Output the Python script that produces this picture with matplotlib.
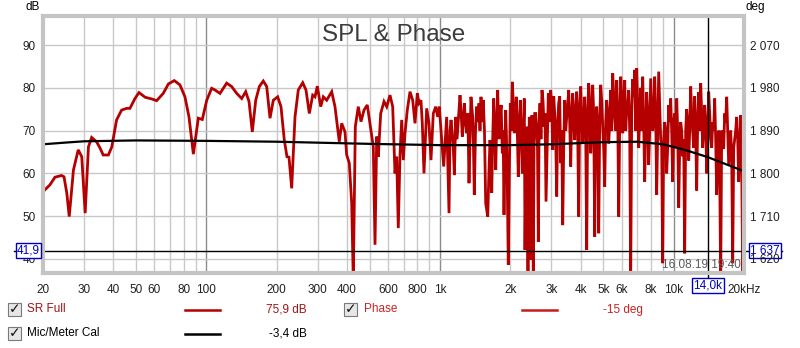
import matplotlib
matplotlib.use("Agg")
import matplotlib.pyplot as plt
from matplotlib.patches import Rectangle

plt.rcParams["font.family"] = ["Liberation Sans", "DejaVu Sans"]

# SR Full SPL trace (Hz, dB)
spl_freq = [
    20, 21.4, 22.5, 24.0, 24.6, 25.3, 25.9, 27.0, 28.3, 29.3, 30.3, 31.3, 32.3, 33.9,
    35.1, 36.2, 38.1, 39.4, 41.3, 43.4, 45.6, 47.1, 49.5, 51.5, 54.7, 58.4, 61.3, 65.4,
    68.8, 72.9, 77.1, 81.0, 84.3, 88.0, 90.1, 92.4, 96.1, 100.4, 105.4, 108.9, 114.4,
    122.2, 128.4, 134.9, 141.7, 147.4, 152.3, 157.3, 162.7, 168.6, 175.3, 181.3, 187.3,
    193.5, 202.0, 208.7, 215.6, 221.4, 225.8, 231.9, 239.6, 247.5, 258.5, 267.0, 275.9,
    285.3, 291.8, 298.5, 308.7, 316.7, 327.4, 344.0, 355.3, 370.7, 379.6, 392.1, 398.8,
    409.1, 418.9, 425.5, 434.1, 447.0, 459.2, 472.9, 488.5, 505.2, 518.3, 527.1, 536.0,
    544.5, 557.5, 575.9, 591.5, 611.0, 627.5, 641.8, 652.7, 663.0, 674.3, 685.7, 696.5,
    708.4, 724.5, 744.1, 764.3, 781.7, 799.7, 813, 829, 840, 854, 877, 897, 915, 936,
    959, 978, 993, 1017, 1037, 1068, 1093, 1115, 1129, 1152, 1168, 1198, 1218, 1246,
    1271, 1301, 1331, 1357, 1380, 1402, 1436, 1469, 1498, 1532, 1569, 1601, 1637, 1665,
    1698, 1732, 1766, 1807, 1848, 1879, 1911, 1942, 1960, 2000, 2040, 2080, 2121, 2163,
    2207, 2251, 2295, 2311, 2350, 2380, 2411, 2445, 2476, 2508, 2543, 2593, 2635, 2679,
    2732, 2787, 2843, 2908, 2977, 3037, 3097, 3159, 3221, 3286, 3351, 3418, 3486, 3555,
    3626, 3698, 3772, 3846, 3923, 4002, 4081, 4162, 4245, 4329, 4416, 4503, 4593, 4684,
    4778, 4873, 4970, 5069, 5170, 5273, 5378, 5484, 5594, 5705, 5819, 5935, 6052, 6173,
    6297, 6421, 6548, 6679, 6812, 6948, 7087, 7227, 7371, 7516, 7666, 7819, 7974, 8133,
    8294, 8459, 8629, 8799, 8975, 9153, 9336, 9522, 9710, 9904, 10100, 10303, 10509,
    10716, 10930, 11147, 11370, 11597, 11827, 12063, 12302, 12547, 12797, 13051, 13312,
    13576, 13847, 14123, 14403, 14690, 14981, 15281, 15586, 15895, 16212, 16533, 16865,
    17201, 17542, 17892, 18247, 18612, 18983, 19360, 19747, 20000,
]
spl_db = [
    55.7, 57.3, 59.1, 59.5, 59.2, 55.3, 49.9, 60.8, 65.5, 63.9, 50.7, 66.2, 68.4, 67.4,
    65.9, 64.3, 64.3, 66.2, 72.5, 74.8, 75.2, 75.2, 77.5, 78.9, 77.8, 77.4, 77.0, 78.7,
    80.9, 81.7, 80.7, 77.9, 73.2, 64.5, 68.6, 72.9, 72.6, 77.1, 79.9, 79.5, 78.7,
    81.1, 80.3, 78.7, 77.5, 79.1, 76.8, 69.7, 77.1, 80.3, 81.6, 80.3, 72.9,
    77.1, 77.9, 75.6, 67.8, 63.9, 63.8, 56.5, 73.2, 79.5, 81.2, 79.5, 74.0,
    78.3, 77.9, 80.4, 75.6, 77.9, 77.1, 79.1, 75.6, 67.4, 71.7, 69.7, 64.3,
    62.4, 53.0, 35.0, 70.9, 75.6, 72.1, 74.8, 76.0, 70.5, 66.2, 43.3, 68.6,
    63.9, 74.0, 76.8, 75.6, 78.3, 75.6, 60.0, 63.9, 47.2, 64.3, 72.5, 63.1,
    69.4, 74.8, 79.1, 77.1, 71.7, 78.7, 76.4, 77.1, 71.7, 60.0, 75.2, 71.7, 63.1, 74.0,
    75.6, 73.2, 75.6, 67.8, 61.6, 73.2, 50.7, 72.5, 69.4, 59.6, 73.2, 72.5, 78.3, 68.6,
    76.4, 69.4, 57.7, 77.9, 73.2, 55.0, 75.6, 76.4, 77.9, 77.1, 53.0, 49.9, 67.8, 55.4,
    77.5, 60.8, 79.5, 73.2, 64.7, 50.3, 74.8, 56.9, 38.6, 76.4, 81.4, 69.4, 77.9, 59.2,
    77.1, 60.0, 77.5, 42.1, 70.9, 36.5, 73.2, 39.8, 73.6, 35.0, 74.0, 70.1, 44.0, 76.4,
    79.5, 70.9, 53.4, 78.7, 79.5, 65.5, 74.0, 54.6, 76.4, 62.4, 47.9, 77.1, 73.2, 79.5,
    61.6, 78.7, 67.8, 79.1, 49.9, 80.3, 67.0, 77.9, 42.1, 81.1, 64.7, 80.7, 45.2, 75.6,
    46.0, 80.7, 70.9, 56.9, 77.1, 67.0, 79.5, 83.4, 73.2, 81.8, 49.9, 82.6, 69.4, 81.8,
    74.8, 79.5, 35.0, 82.0, 84.2, 84.6, 66.0, 80.0, 82.6, 58.0, 79.0, 62.0, 82.2, 70.0,
    82.6, 55.0, 83.8, 68.0, 39.0, 72.0, 60.0, 76.0, 77.5, 58.0, 74.0, 77.5, 52.0,
    72.0, 64.0, 41.3, 75.0, 63.0, 80.3, 70.0, 78.0, 56.0, 79.0, 81.1, 66.0,
    76.0, 60.0, 79.1, 68.0, 72.0, 77.5, 55.0, 70.0, 35.0, 66.0, 74.0, 77.9,
    62.0, 70.0, 39.0, 68.0, 73.2, 58.0, 73.6, 35.5, 66.0,
]

# extra readings inside the dense, fast-wiggling part above ~1.1 kHz
spl_freq_dense = [
    1104, 1140, 1183, 1232, 1258, 1286, 1316, 1344, 1391, 1419, 1452, 1483, 1515, 1550,
    1619, 1651, 1681, 1715, 1749, 1786, 1827, 1863, 1895, 1926, 1980, 2020, 2060, 2100,
    2142, 2185, 2229, 2273, 2330, 2395, 2428, 2460, 2492, 2525, 2568, 2614, 2657,
    2705, 2760, 2815, 2875, 2942, 3007, 3067, 3128, 3190, 3253, 3318, 3384, 3452, 3520,
    3590, 3662, 3735, 3809, 3884, 3962, 4041, 4121, 4203, 4287, 4372, 4459, 4548, 4638,
    4731, 4825, 4921, 5019, 5119, 5221, 5325, 5431, 5539, 5649, 5762, 5877, 5993, 6112,
    6235, 6359, 6484, 6613, 6745, 6880, 7017, 7157, 7299, 7443, 7591, 7742, 7896, 8053,
    8213, 8376, 8544, 8714, 8887, 9064, 9244, 9429, 9616, 9807, 10002, 10201, 10406,
    10612, 10823, 11038, 11258, 11483, 11712, 11945, 12182, 12424, 12672, 12924, 13181,
    13444, 13711, 13985, 14263, 14546, 14835, 15131, 15433, 15740, 16053, 16372, 16699,
    17033, 17371, 17717, 18069, 18429, 18797, 19171, 19553, 19873,
]
spl_db_dense = [
    70, 66, 68, 74, 72, 72, 74, 68, 66, 70, 72, 70, 72, 70,
    60, 64, 68, 70, 72, 68, 76, 70, 66, 68, 60, 70, 76, 72,
    70, 72, 68, 70, 62, 60, 62, 64, 60, 66, 74, 66, 72,
    68, 77, 74, 66, 72, 76, 78, 68, 72, 78, 70, 66, 70, 76,
    72, 74, 72, 75, 70, 76, 74, 72, 70, 74, 77, 70, 74, 72,
    70, 72, 77, 66, 72, 74, 72, 70, 78, 70, 74, 72, 78, 76,
    70, 76, 70, 74, 78, 70, 76, 74, 70, 72, 70, 74, 70, 76,
    72, 74, 70, 76, 66, 68, 70, 66, 72, 70, 72, 66, 70,
    66, 70, 68, 70, 72, 70, 74, 66, 70, 72, 70, 74,
    70, 72, 68, 74, 66, 70, 68, 64, 60, 70, 66, 72,
    70, 66, 64, 66, 70, 68, 66, 62, 70,
]

# Mic/Meter Cal trace (Hz, dB on the SPL axis)
cal_freq = [20, 25, 30, 50, 100, 200, 500, 1000, 2000, 3000, 5000, 7000, 9000,
            11000, 14000, 17000, 20000]
cal_db = [66.8, 67.2, 67.5, 67.7, 67.6, 67.4, 66.9, 66.6, 66.6, 66.8, 67.3, 67.4,
          66.8, 65.6, 63.8, 62.0, 60.5]

x_ticks = [20, 30, 40, 50, 60, 80, 100, 200, 300, 400, 600, 800, 1000, 2000, 3000,
           4000, 5000, 6000, 8000, 10000, 20000]
x_labels = ["20", "30", "40", "50", "60", "80", "100", "200", "300", "400", "600",
            "800", "1k", "2k", "3k", "4k", "5k", "6k", "8k", "10k", "20kHz"]
db_ticks = [40, 50, 60, 70, 80, 90]
deg_ticks = [1620, 1710, 1800, 1890, 1980, 2070]

cursor_freq = 14000
cursor_db = 41.9

C_RED = "#b40000"
C_GRID = "#c8c8c8"
C_BLUE = "#0000c0"

spl = sorted(zip(spl_freq + spl_freq_dense, spl_db + spl_db_dense))
spl_f = [p[0] for p in spl]
spl_v = [p[1] for p in spl]

W, H = 800, 348
fig = plt.figure(figsize=(W / 100, H / 100), dpi=100)
L, R, T, B = 43, 744, 16, 273
ax = fig.add_axes([L / W, 1 - B / H, (R - L) / W, (B - T) / H])

ymin, ymax = 36.7, 96.8
ax.set_xscale("log")
ax.set_xlim(20, 20000)
ax.set_ylim(ymin, ymax)

# grid: every integer multiple inside each decade, decades darker
for dec in [10, 100, 1000, 10000]:
    for m in range(1, 10):
        f = dec * m
        if 20 < f < 20000:
            dark = m == 1
            ax.axvline(f, color="#8c8c8c" if dark else C_GRID, lw=1, zorder=1)
for v in db_ticks:
    ax.axhline(v, color=C_GRID, lw=1, zorder=1)

ax.plot(spl_f, spl_v, color=C_RED, lw=2.0, zorder=3, solid_joinstyle="miter")
ax.plot(cal_freq, cal_db, color="black", lw=1.6, zorder=4)

ax.set_xticks(x_ticks, x_labels)
ax.xaxis.set_minor_locator(matplotlib.ticker.NullLocator())
ax.set_yticks(db_ticks)
ax.tick_params(axis="x", length=0, pad=8, labelsize=8.5, colors="#202020")
ax.tick_params(axis="y", length=0, pad=5, labelsize=8.5, colors="#202020")
for s in ax.spines.values():
    s.set_color("#c4c4c4")
    s.set_linewidth(3)
    s.set_zorder(6)

ax2 = ax.twinx()
ax2.set_ylim(1620 + (ymin - 40) * 9, 1620 + (ymax - 40) * 9)
ax2.set_yticks(deg_ticks, [f"{d // 1000} {d % 1000:03d}" for d in deg_ticks])
ax2.tick_params(axis="y", length=0, pad=4, labelsize=8.5, colors="#202020")
for s in ax2.spines.values():
    s.set_visible(False)

fig.text(25 / W, 1 - 7 / H, "dB", fontsize=8.5, va="center", ha="left")
fig.text(746 / W, 1 - 7 / H, "deg", fontsize=8.5, va="center", ha="left")

ax.text(0.5, (B - 35) / (B - T), "SPL & Phase", transform=ax.transAxes,
        ha="center", va="center", fontsize=17.5, color="#3c3c3c", zorder=7)
ax.text(0.995, (B - 264.5) / (B - T), "16.08.19 19:40", transform=ax.transAxes,
        ha="right", va="center", fontsize=8.5, color="#5a5a5a", zorder=7)

# cursor lines and readouts
ax.axhline(cursor_db, xmin=(14 - L) / (R - L), xmax=(782 - L) / (R - L),
           color="black", lw=1, clip_on=False, zorder=5)
ax.axvline(cursor_freq, ymin=-(279 - B) / (B - T), ymax=1, color="black", lw=1,
           clip_on=False, zorder=5)
box = dict(boxstyle="square,pad=0.12", fc="white", ec=C_BLUE, lw=1)
yt = ax.get_yaxis_transform()
ax.text((28.5 - L) / (R - L), cursor_db, "41,9", transform=yt, ha="center",
        va="center", fontsize=8.5, color=C_BLUE, bbox=box, zorder=8, clip_on=False)
deg_val = 1620 + (cursor_db - 40) * 9
ax.text((765 - L) / (R - L), cursor_db, f"1 {int(deg_val) % 1000:03d}", transform=yt,
        ha="center", va="center", fontsize=8.5, color=C_BLUE, bbox=box, zorder=8,
        clip_on=False)
ax.text(cursor_freq, -(285.5 - B) / (B - T), "14,0k", transform=ax.get_xaxis_transform(),
        ha="center", va="center", fontsize=8.5, color=C_BLUE, bbox=box, zorder=8,
        clip_on=False)


def checkbox(x, y):
    fig.add_artist(Rectangle((x / W, 1 - (y + 6.5) / H), 13 / W, 13 / H,
                             transform=fig.transFigure, fc="#e6e6e6", ec="#7a7a7a",
                             lw=0.8))
    fig.text((x + 6.8) / W, 1 - y / H, "\u2713", fontsize=10, fontweight="bold",
             ha="center", va="center", family="DejaVu Sans", color="#101010")


def legend_line(x0, x1, y, color):
    fig.add_artist(plt.Line2D([x0 / W, x1 / W], [1 - y / H, 1 - y / H],
                              transform=fig.transFigure, color=color, lw=1.8))


r1, r2 = 309.5, 333.5
checkbox(7.5, r1)
fig.text(27 / W, 1 - r1 / H, "SR Full", fontsize=8.5, color="#a01414", va="center")
legend_line(185, 220, r1, C_RED)
fig.text(307 / W, 1 - r1 / H, "75,9 dB", fontsize=8.5, color="#a01414", va="center",
         ha="right")
checkbox(344, r1)
fig.text(364 / W, 1 - r1 / H, "Phase", fontsize=8.5, color="#cc2222", va="center")
legend_line(522, 557, r1, "#c41c1c")
fig.text(643 / W, 1 - r1 / H, "-15 deg", fontsize=8.5, color="#cc2222", va="center",
         ha="right")

checkbox(7.5, r2)
fig.text(27 / W, 1 - r2 / H, "Mic/Meter Cal", fontsize=8.5, color="black", va="center")
legend_line(185, 220, r2, "black")
fig.text(307 / W, 1 - r2 / H, "-3,4 dB", fontsize=8.5, color="black", va="center",
         ha="right")

fig.savefig("out.png", dpi=100)
